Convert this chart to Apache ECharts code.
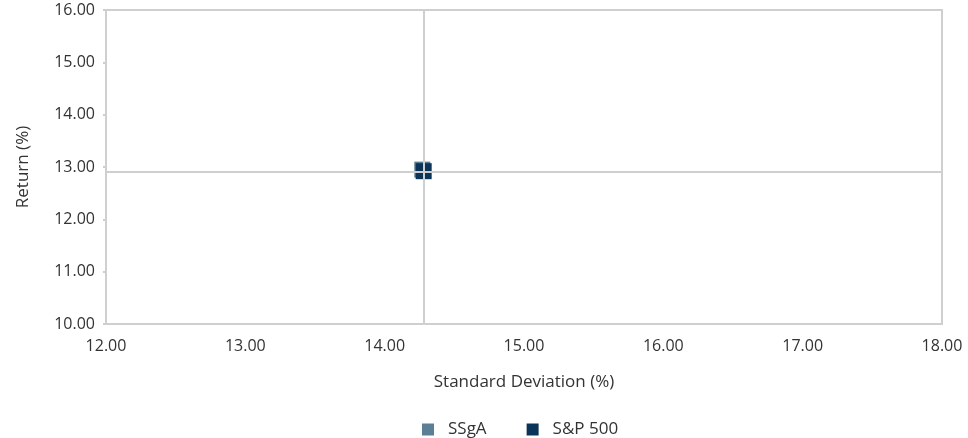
<!DOCTYPE html>
<html>
<head>
<meta charset="utf-8">
<script src="https://cdn.jsdelivr.net/npm/echarts@6/dist/echarts.min.js"></script>
<style>html,body{margin:0;padding:0;background:#fff;}#c{width:968px;height:438px;}</style>
</head>
<body>
<div id="c"></div>
<script>
const seriesNames = ['SSgA', 'S&P 500'];
const ssgaPoint = [14.27, 12.95];   // [std dev, return]
const sp500Point = [14.28, 12.92];
const crosshairX = [14.275];
const crosshairY = [12.915];
const xTicks = [12, 18, 1];
const yTicks = [10, 16, 1];
const colors = ['#5b7f95', '#0b3558'];

const font = 'Open Sans';
const chart = echarts.init(document.getElementById('c'));
chart.setOption({
  animation: false,
  color: colors,
  textStyle: { fontFamily: font },
  grid: { left: 106, right: 26, top: 10, bottom: 114, show: true, borderColor: '#cfcfcf', borderWidth: 2, backgroundColor: 'transparent' },
  legend: {
    data: seriesNames, top: 416, left: 417,
    itemWidth: 12, itemHeight: 12, itemGap: 40,
    icon: 'rect',
    textStyle: { fontFamily: font, fontSize: 17, color: '#333', padding: [0, 0, 0, 9] }
  },
  xAxis: {
    type: 'value', min: xTicks[0], max: xTicks[1], interval: xTicks[2],
    name: 'Standard Deviation (%)', nameLocation: 'middle', nameGap: 50,
    nameTextStyle: { fontFamily: font, fontSize: 17, color: '#333' },
    axisLine: { show: true, lineStyle: { color: '#cfcfcf', width: 2 } },
    axisTick: { show: false },
    splitLine: { show: false },
    axisLabel: { fontFamily: font, fontSize: 16, color: '#333', margin: 14, formatter: v => v.toFixed(2) }
  },
  yAxis: {
    type: 'value', min: yTicks[0], max: yTicks[1], interval: yTicks[2],
    name: 'Return (%)', nameLocation: 'middle', nameGap: 74, nameRotate: 90,
    nameTextStyle: { fontFamily: font, fontSize: 17, color: '#333' },
    axisLine: { show: true, lineStyle: { color: '#cfcfcf', width: 2 } },
    axisTick: { show: true, length: 3, lineStyle: { color: '#cfcfcf', width: 2 } },
    splitLine: { show: false },
    axisLabel: { fontFamily: font, fontSize: 16, color: '#333', margin: 11, formatter: v => v.toFixed(2) }
  },
  series: [
    {
      name: seriesNames[0], type: 'scatter', symbol: 'rect', symbolSize: 16,
      itemStyle: { opacity: 1 },
      data: [ssgaPoint], z: 3,
      markLine: {
        silent: true, symbol: 'none', label: { show: false },
        lineStyle: { color: '#cfcfcf', width: 2, type: 'solid' },
        data: [{ xAxis: crosshairX[0] }, { yAxis: crosshairY[0] }]
      }
    },
    {
      name: seriesNames[1], type: 'scatter', symbol: 'rect', symbolSize: 16,
      itemStyle: { opacity: 1 },
      data: [sp500Point], z: 4
    }
  ]
});
</script>
</body>
</html>
